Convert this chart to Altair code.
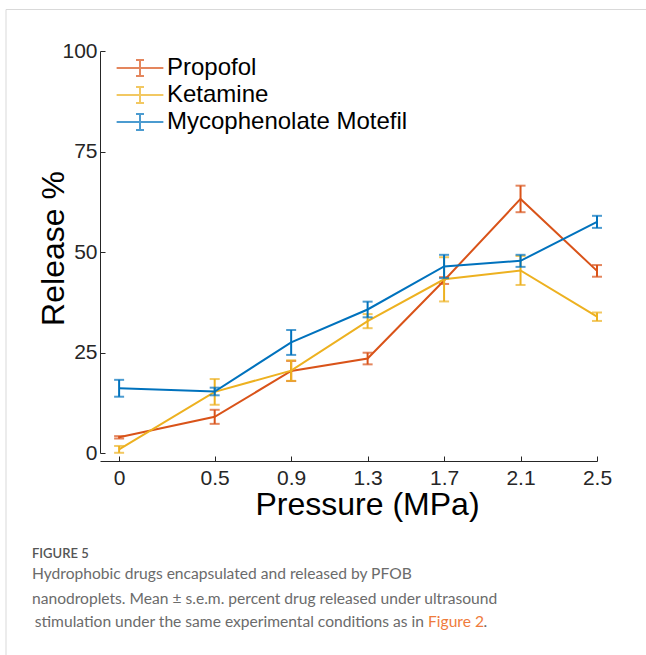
import altair as alt
import pandas as pd

# ---------------- data ----------------
pressure = [0, 0.5, 0.9, 1.3, 1.7, 2.1, 2.5]
series_names = ["Propofol", "Ketamine", "Mycophenolate Motefil"]
series_colors = ["#D95319", "#EDB120", "#0072BD"]

propofol_mean = [3.9, 9.0, 20.4, 23.5, 42.9, 63.2, 45.3]
propofol_sem = [0.3, 1.75, 2.5, 1.45, 0.85, 3.3, 1.45]
ketamine_mean = [0.9, 15.2, 20.5, 32.8, 43.2, 45.4, 33.9]
ketamine_sem = [0.85, 3.2, 2.55, 1.75, 5.5, 3.6, 1.05]
myco_mean = [16.1, 15.3, 27.5, 35.7, 46.4, 47.8, 57.5]
myco_sem = [2.1, 0.95, 3.1, 1.95, 2.9, 1.5, 1.5]

x_ticks = [0, 0.5, 0.9, 1.3, 1.7, 2.1, 2.5]
y_ticks = [0, 25, 50, 75, 100]

caption_head = "FIGURE 5"
caption_lines = [
    "Hydrophobic drugs encapsulated and released by PFOB",
    "nanodroplets. Mean \u00b1 s.e.m. percent drug released under ultrasound",
    "stimulation under the same experimental conditions as in",
]
caption_link = "Figure 2"

rows = []
for name, means, sems in zip(series_names,
                             [propofol_mean, ketamine_mean, myco_mean],
                             [propofol_sem, ketamine_sem, myco_sem]):
    for p, m, s in zip(pressure, means, sems):
        rows.append(dict(series=name, pressure=p, mean=m, lo=m - s, hi=m + s))
df = pd.DataFrame(rows)

# ---------------- layout ----------------
W, H = 497, 402
PAD = dict(left=100, top=51, right=646 - 100 - W, bottom=655 - 51 - H)
FONT = "Liberation Sans"
INK = "#262626"

x_axis = alt.Axis(values=x_ticks, format="~g", title="Pressure (MPa)", offset=8,
                  tickSize=alt.ExprRef(expr="-5"), labelPadding=11,
                  labelFlush=False, labelOverlap=False,
                  titleX=267, titleY=53, titleBaseline="alphabetic", titleAlign="center")
y_axis = alt.Axis(values=y_ticks, title="Release %",
                  tickSize=alt.ExprRef(expr="-5"), labelPadding=8,
                  titleX=-37, titleY=197, titleBaseline="alphabetic", titleAlign="center",
                  titleAngle=270)

xs = alt.Scale(domain=[-0.1, 2.5], nice=False, zero=False)
ys = alt.Scale(domain=[0, 100], nice=False, zero=False)

legend = alt.Legend(
    title=None, orient="none", legendX=25, legendY=2,
    symbolType="M-1.7,0H1.7M0,-0.58V0.58M-0.29,-0.58H0.29M-0.29,0.58H0.29",
    symbolSize=756, symbolStrokeWidth=2, symbolFillColor="transparent",
    labelFontSize=24, labelFont=FONT, labelColor="#000000", labelLimit=400,
    labelOffset=12, rowPadding=0, padding=0,
)
color = alt.Color("series:N", scale=alt.Scale(domain=series_names, range=series_colors),
                  sort=series_names, legend=legend)

X = alt.X("pressure:Q", scale=xs, axis=x_axis)

layers = []
for name in series_names:
    base = alt.Chart(df).transform_filter(alt.datum.series == name)
    line = base.mark_line(strokeWidth=2).encode(
        x=X, y=alt.Y("mean:Q", scale=ys, axis=y_axis), color=color)
    bar = base.mark_rule(strokeWidth=2).encode(
        x=X, y=alt.Y("lo:Q", scale=ys, axis=y_axis), y2="hi:Q", color=color)
    cap_lo = base.mark_tick(orient="horizontal", size=10, thickness=2).encode(
        x=X, y=alt.Y("lo:Q", scale=ys, axis=y_axis), color=color)
    cap_hi = base.mark_tick(orient="horizontal", size=10, thickness=2).encode(
        x=X, y=alt.Y("hi:Q", scale=ys, axis=y_axis), color=color)
    layers += [line, bar, cap_lo, cap_hi]

# frame lines of the figure panel
one = pd.DataFrame({"k": [0]})
frame_top = alt.Chart(one).mark_rule(color="#d9d9d9", strokeWidth=1).encode(
    x=alt.value(6 - 100), x2=alt.value(646 - 100), y=alt.value(9.5 - 51), y2=alt.value(9.5 - 51))
frame_left = alt.Chart(one).mark_rule(color="#d9d9d9", strokeWidth=1).encode(
    x=alt.value(6 - 100), x2=alt.value(6 - 100), y=alt.value(9.5 - 51), y2=alt.value(655 - 51))

CAP_FONT = "Lato"
CAP_SIZE = 15.6
head = alt.Chart(pd.DataFrame({"t": [caption_head]})).mark_text(
    align="left", baseline="alphabetic", font=CAP_FONT, fontSize=13, fontWeight=600,
    color="#555555").encode(text="t:N", x=alt.value(32 - 100), y=alt.value(558 - 51))
cap_layers = [head]
for i, ln in enumerate(caption_lines):
    base_y = [579, 603.5, 627][i] - 51
    if i < 2:
        cap_layers.append(alt.Chart(pd.DataFrame({"t": [ln]})).mark_text(
            align="left", baseline="alphabetic", font=CAP_FONT, fontSize=CAP_SIZE,
            color="#6b6b6b").encode(text="t:N", x=alt.value(32 - 100), y=alt.value(base_y)))
    else:
        cap_layers.append(alt.Chart(pd.DataFrame({"t": [ln]})).mark_text(
            align="right", baseline="alphabetic", font=CAP_FONT, fontSize=CAP_SIZE,
            color="#6b6b6b").encode(text="t:N", x=alt.value(424 - 100), y=alt.value(base_y)))
        cap_layers.append(alt.Chart(pd.DataFrame({"t": [caption_link]})).mark_text(
            align="left", baseline="alphabetic", font=CAP_FONT, fontSize=CAP_SIZE,
            color="#EF7B3C").encode(text="t:N", x=alt.value(428 - 100), y=alt.value(base_y)))
        cap_layers.append(alt.Chart(pd.DataFrame({"t": ["."]})).mark_text(
            align="left", baseline="alphabetic", font=CAP_FONT, fontSize=CAP_SIZE,
            color="#6b6b6b").encode(text="t:N", x=alt.value(483.5 - 100), y=alt.value(base_y)))

chart = alt.layer(*layers, frame_top, frame_left, *cap_layers).properties(
    width=W, height=H,
    autosize=alt.AutoSizeParams(type="none"),
    padding=PAD,
    background="white",
).configure_view(stroke=None).configure_axis(
    grid=False, domainColor=INK, domainWidth=1, tickColor=INK, tickWidth=1,
    labelColor=INK, labelFont=FONT, labelFontSize=21,
    titleColor="#000000", titleFont=FONT, titleFontSize=32, titleFontWeight="normal",
)

chart.save("out.html", embed_options={"renderer": "svg", "actions": False})
